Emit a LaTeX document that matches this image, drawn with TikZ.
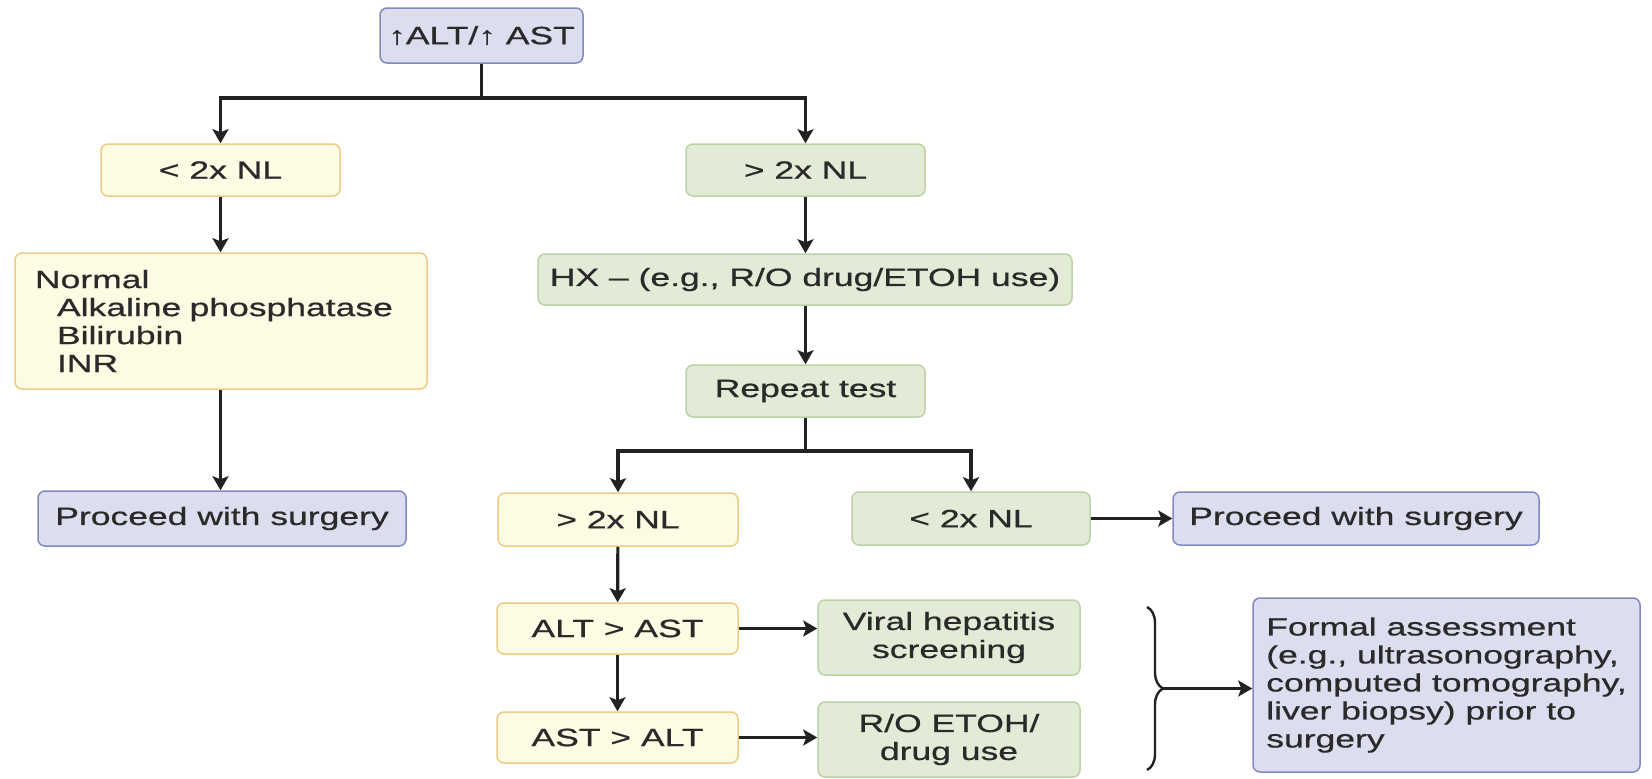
\documentclass[tikz,border=0pt]{standalone}
\usepackage{fontspec}
\setmainfont[FakeStretch=1.42,RawFeature={embolden=0.7}]{Liberation Sans}
\usetikzlibrary{arrows.meta,decorations.pathreplacing}
\definecolor{bfill}{HTML}{DCDEF0}
\definecolor{bdraw}{HTML}{7E8AC0}
\definecolor{yfill}{HTML}{FDFBE3}
\definecolor{ydraw}{HTML}{EBCB85}
\definecolor{gfill}{HTML}{E2EBD6}
\definecolor{gdraw}{HTML}{BCD1A5}
\definecolor{lnc}{HTML}{222222}
\definecolor{txt}{HTML}{2A2A2A}
\begin{document}
\begin{tikzpicture}[x=1pt,y=-1pt,
  box/.style={rounded corners=7pt, line width=1.5pt, inner sep=0pt,
    font=\fontsize{25}{28}\selectfont, text=txt},
  bluebox/.style={box, fill=bfill, draw=bdraw},
  yelbox/.style={box, fill=yfill, draw=ydraw},
  grnbox/.style={box, fill=gfill, draw=gdraw},
  conn/.style={line width=3.2pt, draw=lnc, -{Stealth[length=14pt,width=16pt,inset=3pt]}},
  plain/.style={line width=3.2pt, draw=lnc}]
\useasboundingbox (0,0) rectangle (1652,779);

% nodes
\node[bluebox, minimum width=203pt, minimum height=55pt] (top) at (481.5,35.5) {↑ALT/↑ AST};
\node[yelbox, minimum width=239pt, minimum height=52pt] (L1) at (220.5,170) {<\ 2x NL};
\node[grnbox, minimum width=239pt, minimum height=52pt] (R1) at (805.5,170) {>\ 2x NL};
\node[yelbox, minimum width=412pt, minimum height=136pt, text width=372pt, align=left] (normal) at (221,321)
  {Normal\\\hspace*{22pt}Alkaline phosphatase\\\hspace*{22pt}Bilirubin\\\hspace*{22pt}INR};
\node[bluebox, minimum width=368pt, minimum height=55pt] (procL) at (222,518.5) {Proceed with surgery};
\node[grnbox, minimum width=534pt, minimum height=51pt] (hx) at (805,279.5) {HX – (e.g., R/O drug/ETOH use)};
\node[grnbox, minimum width=239pt, minimum height=52pt] (rep) at (805.5,391) {Repeat test};
\node[yelbox, minimum width=240pt, minimum height=53pt] (M1) at (618,519.5) {>\ 2x NL};
\node[grnbox, minimum width=238pt, minimum height=53pt] (G1) at (971,518.5) {<\ 2x NL};
\node[bluebox, minimum width=366pt, minimum height=53pt] (procR) at (1356,518.5) {Proceed with surgery};
\node[yelbox, minimum width=241pt, minimum height=51pt] (altast) at (617.5,628.5) {ALT > AST};
\node[yelbox, minimum width=241pt, minimum height=51pt] (astalt) at (617.5,737.5) {AST > ALT};
\node[grnbox, minimum width=262pt, minimum height=75pt, align=center] (viral) at (949,637.5) {Viral hepatitis\\screening};
\node[grnbox, minimum width=262pt, minimum height=75pt, align=center] (ro) at (949,739.5) {R/O ETOH/\\drug use};
\node[bluebox, minimum width=387pt, minimum height=174pt, align=left] (formal) at (1446.5,685)
  {Formal assessment\\(e.g., ultrasonography,\\computed tomography,\\liver biopsy) prior to\\surgery};

% junctions
\coordinate (j1) at (481.5,98);
\coordinate (j2) at (805.5,451);
\coordinate (bt) at (1147,607);
\coordinate (bb) at (1147,770);
\coordinate (btip) at (1163,688.5);

% connectors
\draw[plain] (top) -- (j1);
\draw[conn] (j1) -| (L1);
\draw[conn] (j1) -| (R1);
\draw[conn] (L1) -- (L1 |- normal.north);
\draw[conn] (normal.south -| L1) -- (procL.north -| L1);
\draw[conn] (R1) -- (R1 |- hx.north);
\draw[conn] (hx.south -| rep) -- (rep);
\draw[plain] (rep) -- (j2);
\draw[conn] (j2) -| (M1);
\draw[conn] (j2) -| (G1);
\draw[conn] (G1) -- (procR);
\draw[conn] (M1) -- (altast);
\draw[conn] (altast) -- (astalt);
\draw[conn] (altast) -- (altast -| viral.west);
\draw[conn] (astalt) -- (astalt -| ro.west);
\draw[line width=2.4pt, draw=lnc, decorate, decoration={brace, amplitude=16pt}] (bt) -- (bb);
\draw[conn] (btip) -- (btip -| formal.west);
\end{tikzpicture}
\end{document}
